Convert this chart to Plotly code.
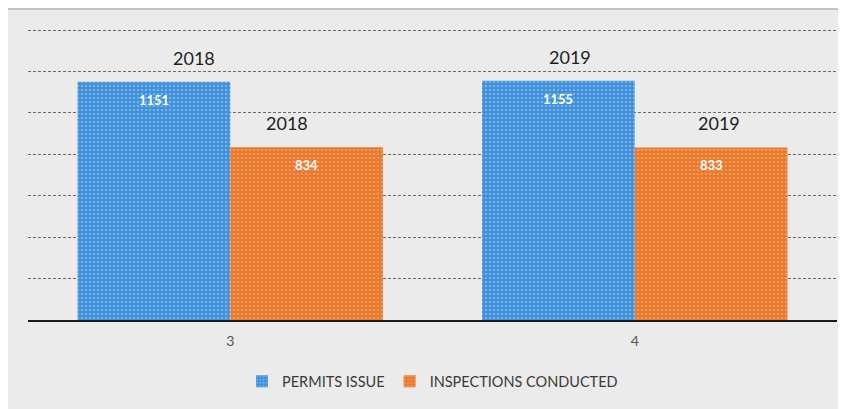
import plotly.graph_objects as go

categories = ["3", "4"]
years = ["2018", "2019"]
permits = [1151, 1155]
inspections = [834, 833]

W, H = 838, 401
fig = go.Figure()

series = [
    ("PERMITS ISSUE", permits, "#3d8fd9", "#a9d3f5"),
    ("INSPECTIONS CONDUCTED", inspections, "#e9782c", "#f7b986"),
]
for name, vals, bg, fg in series:
    fig.add_trace(go.Bar(
        x=categories, y=vals, name=name,
        marker=dict(color=bg, line=dict(width=0),
                    pattern=dict(shape=".", fgcolor=fg, bgcolor=bg, size=4, solidity=0.35)),
        hoverinfo="skip",
    ))

# label nudges (px) as placed in the original chart
year_xshift = [[40, 12], [-20, 8]]

bargap = 0.245
bw = (1 - bargap) / 2
annotations = []
for si, (name, vals, _, _) in enumerate(series):
    off = (si - 0.5) * bw
    for ci, v in enumerate(vals):
        xpos = ci + off
        annotations.append(dict(x=xpos, y=v, xref="x", yref="y", text=years[ci],
                                showarrow=False, yanchor="bottom", yshift=11,
                                xshift=year_xshift[si][ci],
                                font=dict(size=18, color="#1e1e1e", family="Lato")))
        annotations.append(dict(x=xpos, y=v, xref="x", yref="y", text=f"<b>{v}</b>",
                                showarrow=False, yanchor="middle", yshift=-18,
                                font=dict(size=13, color="white", family="Lato")))

fig.update_layout(
    width=W, height=H,
    margin=dict(l=20, r=9, t=20, b=89),
    paper_bgcolor="#ebebeb",
    plot_bgcolor="rgba(0,0,0,0)",
    barmode="group", bargap=bargap, bargroupgap=0,
    font=dict(family="Lato", color="#444"),
    showlegend=True,
    legend=dict(orientation="h", x=0.5, xanchor="center", y=-0.21, yanchor="middle",
                font=dict(size=14.5, color="#3a3a3a"), itemwidth=30, traceorder="normal",
                bgcolor="rgba(0,0,0,0)"),
    annotations=annotations,
    shapes=[dict(type="line", xref="paper", yref="paper", layer="below",
                 x0=-20/809, x1=1 + 9/809, y0=1 + 19/292, y1=1 + 19/292,
                 line=dict(color="#9a9a9a", width=1))],
)
fig.update_xaxes(type="category", showline=True, linecolor="#1a1a1a", linewidth=2,
                 ticks="outside", ticklen=7, tickcolor="rgba(0,0,0,0)",
                 tickfont=dict(size=14, color="#555"), showgrid=False)
fig.update_yaxes(range=[0, 1410], dtick=200, showticklabels=False, showline=False,
                 zeroline=False, gridcolor="#6a6a6a", gridwidth=1, griddash="3px,2px")

fig.write_html("out.html")
